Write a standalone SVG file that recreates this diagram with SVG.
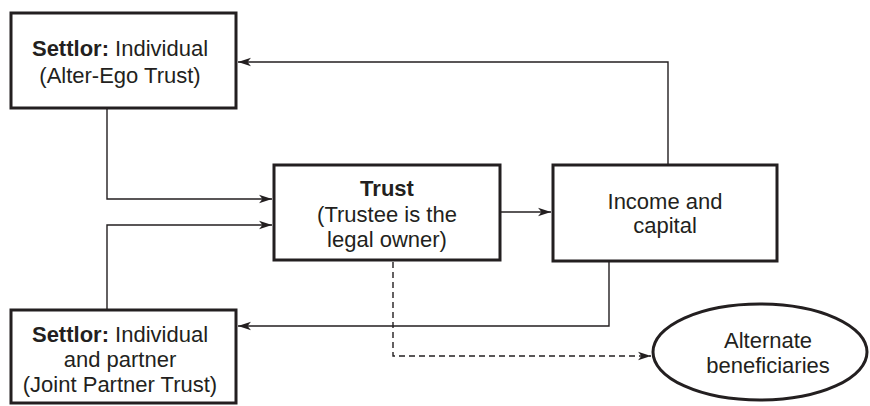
<svg xmlns="http://www.w3.org/2000/svg" width="870" height="406" viewBox="0 0 870 406">
<style>
.box{fill:#fff;stroke:#231f20;stroke-width:3}
.ln{fill:none;stroke:#231f20;stroke-width:1.4}
.dash{stroke-dasharray:6,4}
text{font-family:"Liberation Sans",Arial,sans-serif;font-size:22px;fill:#231f20;text-anchor:middle}
.b{font-weight:bold}
</style>
<defs>
<marker id="ah" markerWidth="14" markerHeight="10" refX="13" refY="5" orient="auto" markerUnits="userSpaceOnUse">
<path d="M0,0.8 L13,5 L0,9.2 L3.5,5 z" fill="#231f20"/>
</marker>
</defs>
<g id="connectors">
<path class="ln" d="M107,109 V199 H272" marker-end="url(#ah)"/>
<path class="ln" d="M107,309 V225 H272" marker-end="url(#ah)"/>
<path class="ln" d="M501,212 H551" marker-end="url(#ah)"/>
<path class="ln" d="M668,164 V62 H238" marker-end="url(#ah)"/>
<path class="ln" d="M609,262 V326 H238" marker-end="url(#ah)"/>
<path class="ln dash" d="M393,262 V356 H651" marker-end="url(#ah)"/>
</g>
<g id="settlor-alter-ego">
<rect class="box" x="11" y="13" width="225" height="95"/>
<text x="120" y="56"><tspan class="b">Settlor:</tspan> Individual</text>
<text x="120" y="83">(Alter-Ego Trust)</text>
</g>
<g id="trust">
<rect class="box" x="274" y="165" width="226" height="95"/>
<text x="387" y="196" class="b">Trust</text>
<text x="387" y="222">(Trustee is the</text>
<text x="387" y="247">legal owner)</text>
</g>
<g id="income">
<rect class="box" x="553" y="165" width="224" height="96"/>
<text x="665" y="209">Income and</text>
<text x="665" y="233">capital</text>
</g>
<g id="settlor-joint">
<rect class="box" x="11" y="310" width="225" height="93"/>
<text x="120" y="342"><tspan class="b">Settlor:</tspan> Individual</text>
<text x="120" y="367">and partner</text>
<text x="120" y="392">(Joint Partner Trust)</text>
</g>
<g id="alternate-beneficiaries">
<ellipse class="box" cx="760" cy="352" rx="107" ry="48"/>
<text x="768" y="348">Alternate</text>
<text x="768" y="373">beneficiaries</text>
</g>
</svg>
